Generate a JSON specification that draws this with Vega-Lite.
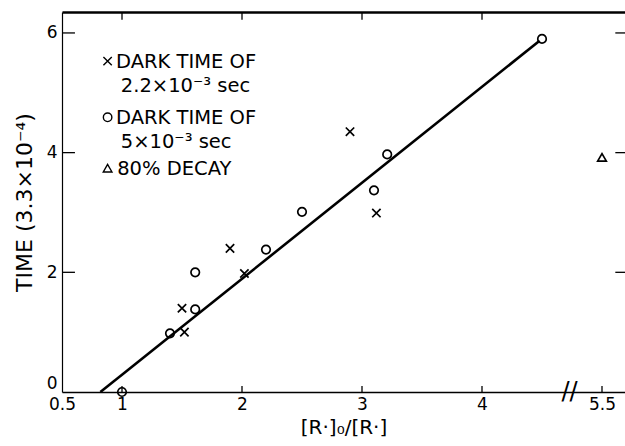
{
  "$schema": "https://vega.github.io/schema/vega-lite/v6.json",
  "width": 563,
  "height": 380,
  "autosize": {"type": "none"},
  "padding": {"left": 62, "top": 12, "right": 0, "bottom": 54},
  "background": "white",
  "config": {
    "font": "DejaVu Sans",
    "view": {"stroke": null},
    "axis": {
      "grid": false,
      "ticks": false,
      "domainColor": "black",
      "domainWidth": 1.5,
      "labelColor": "black",
      "titleColor": "black",
      "labelFont": "DejaVu Sans",
      "titleFont": "DejaVu Sans",
      "titleFontWeight": "normal",
      "labelFontSize": 17,
      "titleFontSize": 20
    }
  },
  "datasets": {
    "pts": [
      {"x": 1.5, "y": 1.4, "series": "dark 2.2e-3"},
      {"x": 1.52, "y": 1.0, "series": "dark 2.2e-3"},
      {"x": 1.9, "y": 2.4, "series": "dark 2.2e-3"},
      {"x": 2.02, "y": 1.98, "series": "dark 2.2e-3"},
      {"x": 2.9, "y": 4.35, "series": "dark 2.2e-3"},
      {"x": 3.12, "y": 2.99, "series": "dark 2.2e-3"},
      {"x": 1.0, "y": 0.0, "series": "dark 5e-3"},
      {"x": 1.4, "y": 0.98, "series": "dark 5e-3"},
      {"x": 1.61, "y": 1.38, "series": "dark 5e-3"},
      {"x": 1.61, "y": 2.0, "series": "dark 5e-3"},
      {"x": 2.2, "y": 2.38, "series": "dark 5e-3"},
      {"x": 2.5, "y": 3.01, "series": "dark 5e-3"},
      {"x": 3.1, "y": 3.37, "series": "dark 5e-3"},
      {"x": 3.21, "y": 3.97, "series": "dark 5e-3"},
      {"x": 4.5, "y": 5.9, "series": "dark 5e-3"},
      {"x": 5.5, "y": 3.92, "series": "80% decay"}
    ],
    "fit": [
      {"x": 0.82, "y": 0.0},
      {"x": 4.48, "y": 5.87}
    ],
    "ticks": [
      {"x": 1, "x2": 1, "y": 0, "y2": 0.1},
      {"x": 2, "x2": 2, "y": 0, "y2": 0.1},
      {"x": 3, "x2": 3, "y": 0, "y2": 0.1},
      {"x": 4, "x2": 4, "y": 0, "y2": 0.1},
      {"x": 5.5, "x2": 5.5, "y": 0, "y2": 0.1},
      {"x": 1, "x2": 1, "y": 6.35, "y2": 6.22},
      {"x": 2, "x2": 2, "y": 6.35, "y2": 6.22},
      {"x": 3, "x2": 3, "y": 6.35, "y2": 6.22},
      {"x": 4, "x2": 4, "y": 6.35, "y2": 6.22},
      {"x": 0.5, "x2": 0.608, "y": 2, "y2": 2},
      {"x": 0.5, "x2": 0.608, "y": 4, "y2": 4},
      {"x": 0.5, "x2": 0.608, "y": 6, "y2": 6},
      {"x": 5.69, "x2": 5.61, "y": 2, "y2": 2},
      {"x": 5.69, "x2": 5.61, "y": 4, "y2": 4},
      {"x": 5.69, "x2": 5.61, "y": 6, "y2": 6}
    ],
    "legendSymbols": [
      {"x": 0.88, "y": 5.53, "series": "dark 2.2e-3"},
      {"x": 0.88, "y": 4.59, "series": "dark 5e-3"},
      {"x": 0.88, "y": 3.74, "series": "80% decay"}
    ],
    "legend": [
      {"x": 0.95, "y": 5.52, "text": "DARK TIME OF"},
      {"x": 0.99, "y": 5.12, "text": "2.2×10⁻³ sec"},
      {"x": 0.95, "y": 4.58, "text": "DARK TIME OF"},
      {"x": 0.99, "y": 4.18, "text": "5×10⁻³ sec"},
      {"x": 0.96, "y": 3.73, "text": "80% DECAY"}
    ],
    "brk": [
      {"x": 4.96, "y": 0.0, "text": "//"}
    ]
  },
  "layer": [
    {
      "data": {"name": "fit"},
      "mark": {"type": "line", "color": "black", "strokeWidth": 2.6},
      "encoding": {
        "x": {
          "field": "x", "type": "quantitative",
          "scale": {"domain": [0.5, 4.5, 5.5, 5.69], "range": [0, 480, 540, 563], "nice": false, "zero": false},
          "axis": {
            "orient": "bottom", "title": "[R·]₀/[R·]",
            "values": [0.5, 1, 2, 3, 4, 5.5], "format": ".2~f",
            "labelPadding": 4, "titlePadding": 5,
            "labelFlush": false
          }
        },
        "y": {
          "field": "y", "type": "quantitative",
          "scale": {"domain": [0, 6.35], "nice": false, "zero": false},
          "axis": {
            "orient": "left", "title": "TIME (3.3×10⁻⁴)",
            "values": [0, 2, 4, 6], "format": "d",
            "labelPadding": 5, "titlePadding": 10, "titleFontSize": 22,
            "domainWidth": 1.2,
            "labelBaseline": {"condition": {"test": "datum.value == 0", "value": "bottom"}, "value": "middle"}
          }
        }
      }
    },
    {
      "data": {"name": "ticks"},
      "mark": {"type": "rule", "color": "black", "strokeWidth": 1.3},
      "encoding": {
        "x": {"field": "x", "type": "quantitative", "axis": {"orient": "top", "title": null, "labels": false, "domainWidth": 2.4, "values": [1]}},
        "x2": {"field": "x2"},
        "y": {"field": "y", "type": "quantitative", "axis": null},
        "y2": {"field": "y2"}
      }
    },
    {
      "data": {"name": "pts"},
      "mark": {"type": "point", "filled": false, "strokeWidth": 1.7, "color": "black", "opacity": 1},
      "encoding": {
        "x": {"field": "x", "type": "quantitative", "axis": null},
        "y": {"field": "y", "type": "quantitative", "axis": null},
        "shape": {
          "field": "series", "type": "nominal", "legend": null,
          "scale": {
            "domain": ["dark 2.2e-3", "dark 5e-3", "80% decay"],
            "range": ["M-1,-1L1,1M1,-1L-1,1", "circle", "triangle-up"]
          }
        },
        "size": {
          "field": "series", "type": "nominal", "legend": null,
          "scale": {"domain": ["dark 2.2e-3", "dark 5e-3", "80% decay"], "range": [70, 75, 60]}
        }
      }
    },
    {
      "data": {"name": "legendSymbols"},
      "mark": {"type": "point", "filled": false, "strokeWidth": 1.4, "color": "black", "opacity": 1},
      "encoding": {
        "x": {"field": "x", "type": "quantitative", "axis": null},
        "y": {"field": "y", "type": "quantitative", "axis": null},
        "shape": {"field": "series", "type": "nominal", "legend": null},
        "size": {"field": "series", "type": "nominal", "legend": null}
      }
    },
    {
      "data": {"name": "legend"},
      "mark": {"type": "text", "align": "left", "baseline": "middle", "fontSize": 19.5, "color": "black"},
      "encoding": {
        "x": {"field": "x", "type": "quantitative", "axis": null},
        "y": {"field": "y", "type": "quantitative", "axis": null},
        "text": {"field": "text"}
      }
    },
    {
      "data": {"name": "brk"},
      "mark": {"type": "text", "align": "center", "baseline": "middle", "fontSize": 24, "color": "black"},
      "encoding": {
        "x": {"field": "x", "type": "quantitative", "axis": null},
        "y": {"field": "y", "type": "quantitative", "axis": null},
        "text": {"field": "text"}
      }
    }
  ],
  "resolve": {"axis": {"x": "independent", "y": "independent"}}
}
